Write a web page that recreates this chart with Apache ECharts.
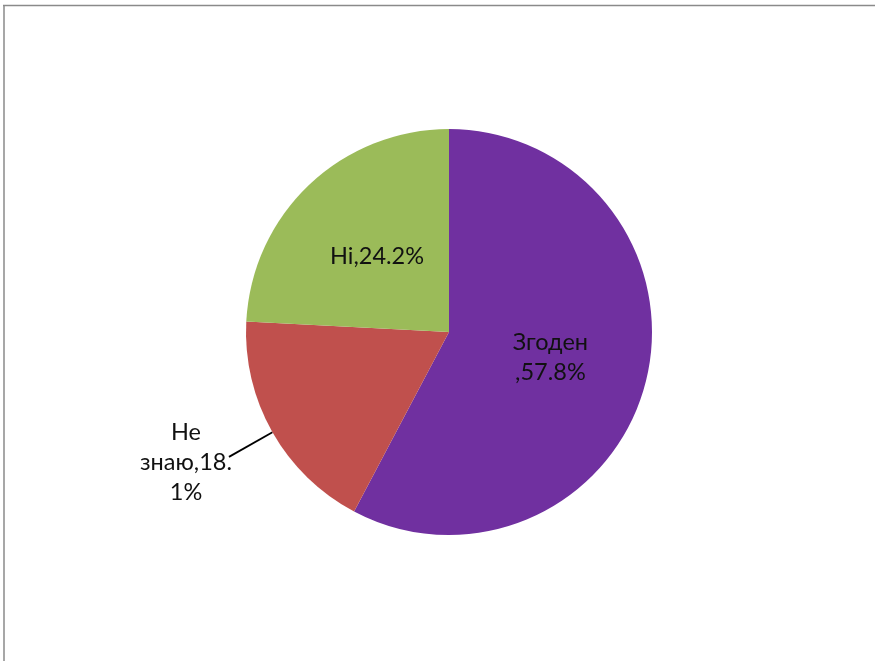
<!DOCTYPE html>
<html>
<head>
<meta charset="utf-8">
<script src="https://cdn.jsdelivr.net/npm/echarts@6/dist/echarts.min.js"></script>
<style>
html,body{margin:0;padding:0;background:#fff;}
#chart{width:875px;height:661px;}
</style>
</head>
<body>
<div id="chart"></div>
<script>
const categories = ['Згоден', 'Не знаю', 'Ні'];
const values = [57.8, 18.1, 24.2];
const colors = ['#7030A0', '#C0504D', '#9BBB59'];
// how Excel wrapped each label: split name and value across lines
const labelWraps = [
  (n, v) => n + '\n,' + v + '%',
  (n, v) => { const s = n.split(' '); const vs = String(v); const i = vs.indexOf('.') + 1; return s[0] + '\n' + s[1] + ',' + vs.slice(0, i) + '\n' + vs.slice(i) + '%'; },
  (n, v) => n + ',' + v + '%'
];
const insideLabel = [true, false, true];

const font = 'Lato, "Liberation Sans", sans-serif';
const chart = echarts.init(document.getElementById('chart'), null, {renderer: 'canvas'});

const data = categories.map((c, i) => ({
  name: c,
  value: values[i],
  itemStyle: {color: colors[i]},
  label: insideLabel[i]
    ? {position: 'inside'}
    : {position: 'outside', distanceToLabelLine: 0},
  labelLine: {show: !insideLabel[i]}
}));

chart.setOption({
  animation: false,
  backgroundColor: '#fff',
  graphic: [
    {type: 'line', shape: {x1: 3, y1: 5.5, x2: 875, y2: 5.5}, style: {stroke: '#8a8a8a', lineWidth: 1.5}, silent: true},
    {type: 'line', shape: {x1: 4, y1: 5, x2: 4, y2: 661}, style: {stroke: '#8a8a8a', lineWidth: 1.5}, silent: true}
  ],
  series: [{
    type: 'pie',
    center: [449, 332],
    radius: 203,
    startAngle: 90,
    clockwise: true,
    avoidLabelOverlap: false,
    itemStyle: {borderWidth: 0},
    label: {
      show: true,
      color: '#111',
      fontFamily: font,
      fontSize: 23.5,
      lineHeight: 30,
      formatter: p => {
        const t = labelWraps[p.dataIndex](p.name, p.value);
        return t.split('\n').map(s => '{c|' + s + '}').join('\n');
      },
      rich: {
        c: {align: 'center', color: '#111', fontFamily: font, fontSize: 23.5, lineHeight: 30}
      }
    },
    labelLine: {
      length: 50,
      length2: 0,
      smooth: false,
      lineStyle: {color: '#000', width: 1.8}
    },
    labelLayout: p => (p.dataIndex === 1 ? {dx: 3, dy: 6} : {}),
    data: data
  }]
});
</script>
</body>
</html>
